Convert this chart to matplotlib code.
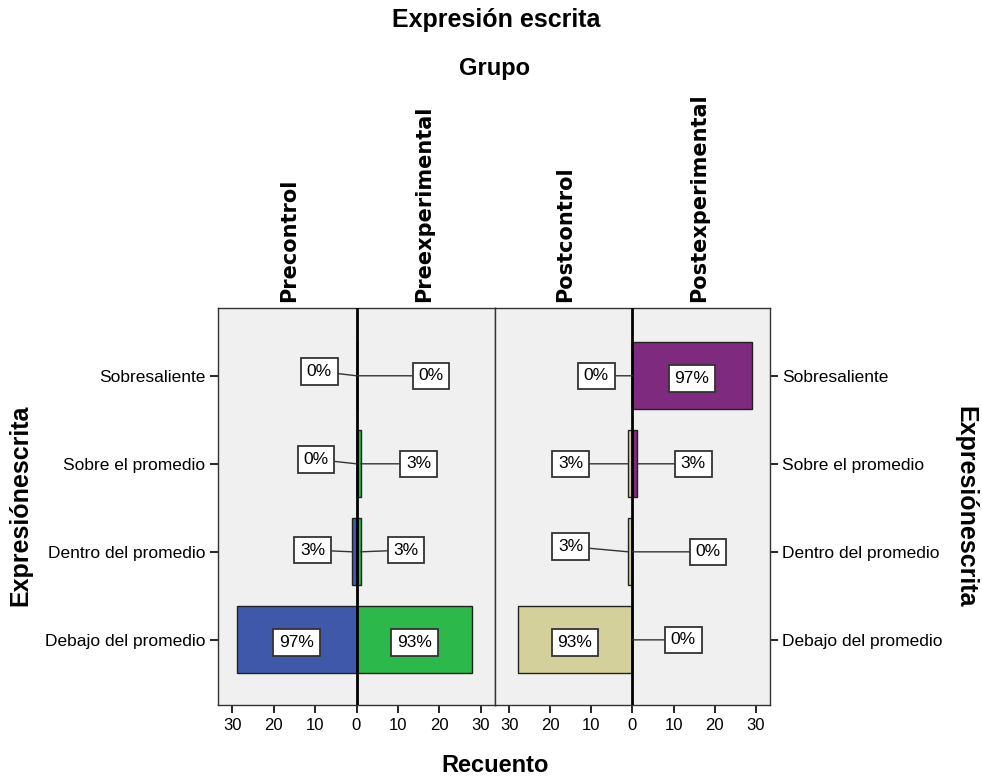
import matplotlib.pyplot as plt

plt.rcParams['font.family'] = ['Liberation Sans', 'DejaVu Sans']

# data (counts per group, bottom to top)
categorias = ["Debajo del promedio", "Dentro del promedio", "Sobre el promedio", "Sobresaliente"]
grupos = ["Precontrol", "Preexperimental", "Postcontrol", "Postexperimental"]
precontrol = [29, 1, 0, 0]
preexperimental = [28, 1, 1, 0]
postcontrol = [28, 1, 1, 0]
postexperimental = [0, 0, 1, 29]

colores = ["#3f58a9", "#2db84b", "#d4d09b", "#7e2a7e"]

# label box placement (distance from centre, y); None = middle of the bar
label_pos = [
    [None, (10.6, 1.02), (9.8, 2.05), (9.0, 3.05)],
    [None, (12.0, 1.02), (15.0, 2.0), (18.0, 3.0)],
    [None, (15.1, 1.06), (15.1, 2.0), (8.8, 3.0)],
    [(12.4, 0.0), (18.4, 1.0), (14.8, 2.0), None],
]

fig = plt.figure(figsize=(9.82, 7.78), dpi=100)
axL = fig.add_axes([218/982, 73/778, 277/982, 397/778])
axR = fig.add_axes([495/982, 73/778, 275/982, 397/778])

series = [precontrol, preexperimental, postcontrol, postexperimental]
box = dict(boxstyle="square,pad=0.33", fc="white", ec="#333333", lw=1.3)

for k, ax in enumerate([axL, axR]):
    ax.set_facecolor("#f0f0f0")
    ax.set_xlim(-33.5, 33.5)
    ax.set_ylim(-0.74, 3.77)
    for side, sign in [(0, -1), (1, 1)]:
        g = 2 * k + side
        vals = series[g]
        ax.barh(range(4), [sign * v for v in vals], height=0.76, color=colores[g],
                edgecolor="#222222", linewidth=1, zorder=2)
        total = sum(vals)
        for i, v in enumerate(vals):
            txt = "%d%%" % round(100 * v / total)
            pos = label_pos[g][i]
            if pos is None:
                ax.text(sign * v / 2, i - 0.03, txt, ha="center", va="center",
                        fontsize=12.5, bbox=box, zorder=5)
            else:
                ax.annotate(txt, xy=(sign * v, i), xytext=(sign * pos[0], pos[1]),
                            ha="center", va="center", fontsize=12.5, bbox=box, zorder=5,
                            arrowprops=dict(arrowstyle="-", color="#333333", lw=1,
                                            shrinkA=0, shrinkB=0))
        ax.text(sign * 16.3, 1.015, grupos[g], transform=ax.get_xaxis_transform(),
                rotation=90, ha="center", va="bottom", fontsize=15,
                fontweight="bold", family="DejaVu Sans")
    ax.axvline(0, color="black", lw=2, zorder=3)
    ax.set_xticks([-30, -20, -10, 0, 10, 20, 30])
    ax.set_xticklabels(["30", "20", "10", "0", "10", "20", "30"])
    ax.tick_params(axis="x", direction="out", length=6, width=1.2, labelsize=12, pad=3)
    for s in ax.spines.values():
        s.set_color("#333333")
        s.set_linewidth(1)
    ax.set_yticks(range(4))
    ax.set_yticklabels(categorias)
    ax.tick_params(axis="y", direction="out", length=6, width=1.2, labelsize=12.5, pad=3)

axL.yaxis.tick_left()
axR.yaxis.tick_right()

fig.text(496/982, 1 - 20/778, "Expresión escrita", ha="center", va="center",
         fontsize=18, fontweight="bold")
fig.text(495/982, 1 - 68/778, "Grupo", ha="center", va="center",
         fontsize=17, fontweight="bold")
fig.text(495/982, 1 - 765/778, "Recuento", ha="center", va="center",
         fontsize=17, fontweight="bold")
fig.text(20/982, 1 - 505/778, "Expresiónescrita", ha="center", va="center",
         rotation=90, fontsize=18, fontweight="bold")
fig.text(965/982, 1 - 507/778, "Expresiónescrita", ha="center", va="center",
         rotation=-90, fontsize=18, fontweight="bold")

plt.savefig("out.png", dpi=100)
